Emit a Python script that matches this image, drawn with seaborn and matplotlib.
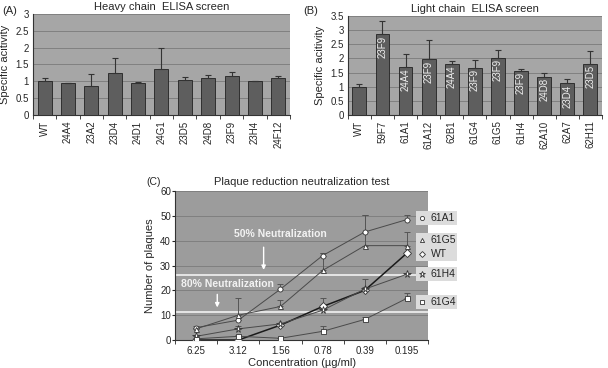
import numpy as np
import pandas as pd
import matplotlib
matplotlib.use("Agg")
import matplotlib.pyplot as plt
import matplotlib.transforms as mtransforms
from matplotlib.patches import Rectangle
import seaborn as sns

# panel A data
heavy_clones = ["WT", "24A4", "23A2", "23D4", "24D1", "24G1", "23D5", "24D8", "23F9", "23H4", "24F12"]
heavy_activity = [1.0, 0.95, 0.87, 1.25, 0.95, 1.38, 1.05, 1.1, 1.15, 1.0, 1.1]
heavy_err = [0.1, 0.01, 0.35, 0.45, 0.02, 0.6, 0.08, 0.1, 0.13, 0.0, 0.05]

# panel B data
light_clones = ["WT", "59F7", "61A1", "61A12", "62B1", "61G4", "61G5", "61H4", "62A10", "62A7", "62H11"]
light_activity = [1.0, 2.85, 1.7, 1.97, 1.8, 1.67, 2.03, 1.56, 1.35, 1.12, 1.82]
light_err = [0.1, 0.48, 0.47, 0.68, 0.12, 0.28, 0.28, 0.07, 0.14, 0.15, 0.43]
light_partner = ["", "23F9", "24A4", "23F9", "24A4", "23F9", "23F9", "23F9", "24D8", "23D4", "23D5"]

# panel C data
conc_labels = ["6.25", "3.12", "1.56", "0.78", "0.39", "0.195"]
plaques = {
    "61A1": [5, 8, 20.5, 34, 43.5, 48.5],
    "61G5": [4.5, 10, 13.5, 28, 38, 38],
    "WT": [0, 0, 6, 13.5, 20, 35],
    "61H4": [1.5, 4.5, 6.5, 12, 20.5, 26.5],
    "61G4": [0.5, 1.5, 0.7, 3.5, 8.3, 16.8],
}
plaques_err = {
    "61A1": [0.5, 0, 2, 1, 7, 2],
    "61G5": [0.5, 7, 2.5, 7, 12.5, 5.5],
    "WT": [0, 0, 0.5, 3.5, 4.5, 0],
    "61H4": [0.5, 1, 0.5, 1, 1, 0],
    "61G4": [0.5, 0.5, 0, 2, 1, 2],
}
legend_y = {"61A1": 49, "61G5": 40.4, "WT": 34.6, "61H4": 26.7, "61G4": 15.4}
symbols = {"61A1": "o", "61G5": "^", "WT": "D", "61H4": "*", "61G4": "s"}
half_neut = 26.3
eighty_neut = 11.2

sns.set_style("white")
plt.rcParams["font.family"] = ["Liberation Sans", "DejaVu Sans"]
plt.rcParams["font.size"] = 7

BG = "#a6a6a6"
BAR = "#5e5e5e"
GRID = "#808080"

fig = plt.figure(figsize=(6.08, 3.68), dpi=100)


def bar_panel(ax, clones, vals, errs, title, ymax):
    df = pd.DataFrame({"clone": clones, "activity": vals})
    sns.barplot(data=df, x="clone", y="activity", color=BAR, width=0.6,
                edgecolor="#222222", linewidth=0.6, saturation=1, ax=ax, zorder=3)
    x = np.arange(len(clones))
    ax.errorbar(x, vals, yerr=[np.zeros(len(errs)), errs], fmt="none",
                ecolor="#333333", elinewidth=0.8, capsize=2, capthick=0.8, zorder=4)
    ax.set_facecolor(BG)
    ax.set_ylim(0, ymax)
    ax.set_yticks(np.arange(0, ymax + 0.01, 0.5))
    ax.set_yticklabels([f"{v:g}" for v in np.arange(0, ymax + 0.01, 0.5)])
    ax.yaxis.grid(True, color=GRID, lw=0.7, zorder=0)
    ax.set_axisbelow(True)
    ax.set_xlabel("")
    ax.set_ylabel("Specific acitivity", fontsize=8)
    ax.set_title(title, fontsize=8, pad=3)
    ax.tick_params(axis="x", rotation=90, length=0, pad=4)
    ax.tick_params(axis="y", length=2, pad=1)
    ax.set_xticks(np.arange(-0.5, len(clones)), minor=True)
    ax.tick_params(axis="x", which="minor", length=3, direction="out", bottom=True)
    for s in ["top", "right"]:
        ax.spines[s].set_visible(False)
    for s in ["left", "bottom"]:
        ax.spines[s].set_color("#333333")
        ax.spines[s].set_linewidth(0.8)
    ax.set_xlim(-0.5, len(clones) - 0.5)


axA = fig.add_axes([0.054, 0.6875, 0.423, 0.2745])
bar_panel(axA, heavy_clones, heavy_activity, heavy_err, "Heavy chain  ELISA screen", 3)
fig.text(0.003, 0.985, "(A)", fontsize=8, va="top")

axB = fig.add_axes([0.572, 0.6875, 0.418, 0.269])
bar_panel(axB, light_clones, light_activity, light_err, "Light chain  ELISA screen", 3.5)
fig.text(0.498, 0.985, "(B)", fontsize=8, va="top")
for i, lab in enumerate(light_partner):
    if lab:
        axB.text(i, light_activity[i] - 0.05, lab, rotation=90, ha="center", va="top",
                 color="#f0f0f0", fontsize=7, zorder=5)

# panel C
axC = fig.add_axes([0.288, 0.076, 0.416, 0.405])
axC.set_facecolor("#9c9c9c")
xpos = np.arange(len(conc_labels))
for name, vals in plaques.items():
    is_wt = name == "WT"
    sns.lineplot(x=xpos, y=vals, ax=axC, color="#1a1a1a" if is_wt else "#4a4a4a",
                 lw=1.1 if is_wt else 0.7, marker=symbols[name],
                 markersize=5.5 if name == "61H4" else 3.6,
                 markerfacecolor="white", markeredgecolor="#333333",
                 markeredgewidth=0.6, zorder=4)
    axC.errorbar(xpos, vals, yerr=[np.zeros(6), plaques_err[name]], fmt="none",
                 ecolor="#555555", elinewidth=0.7, capsize=2, capthick=0.7, zorder=3)

axC.axhline(half_neut, color="#e6e6e6", lw=1.4, zorder=2)
axC.axhline(eighty_neut, color="#e6e6e6", lw=1.4, zorder=2)
axC.annotate("", xy=(1.6, half_neut + 0.8), xytext=(1.6, 38.5),
             arrowprops=dict(arrowstyle="-|>", color="white", lw=1, mutation_scale=6))
axC.text(2.0, 42.5, "50% Neutralization", color="#f2f2f2", fontweight="bold",
         ha="center", va="center", fontsize=7.5)
axC.annotate("", xy=(0.5, eighty_neut + 0.8), xytext=(0.5, 19.5),
             arrowprops=dict(arrowstyle="-|>", color="white", lw=1, mutation_scale=6))
axC.text(0.74, 22.5, "80% Neutralization", color="#f2f2f2", fontweight="bold",
         ha="center", va="center", fontsize=7.5)

axC.set_xlim(-0.5, 5.5)
axC.set_ylim(0, 60)
axC.set_xticks(xpos)
axC.set_xticklabels(conc_labels)
axC.set_xticks(np.arange(-0.5, 6), minor=True)
axC.tick_params(axis="x", which="major", length=0, pad=4)
axC.tick_params(axis="x", which="minor", length=3, bottom=True)
axC.tick_params(axis="y", length=2, pad=1, left=True)
axC.set_yticks(np.arange(0, 61, 10))
axC.yaxis.grid(True, color=GRID, lw=0.7, zorder=0)
axC.set_axisbelow(True)
for s in ["top", "right"]:
    axC.spines[s].set_visible(False)
for s in ["left", "bottom"]:
    axC.spines[s].set_color("#333333")
    axC.spines[s].set_linewidth(0.8)
axC.set_xlabel("Concentration (\u00b5g/ml)", fontsize=8, labelpad=2)
axC.set_ylabel("Number of plaques", fontsize=8)
axC.set_title("Plaque reduction neutralization test", fontsize=8, pad=4)
fig.text(0.24, 0.505, "(C)", fontsize=7.5, va="center")

# legend boxes next to the line ends
blend = mtransforms.blended_transform_factory(axC.transAxes, axC.transData)
for name, yv in legend_y.items():
    axC.add_patch(Rectangle((0.953, yv - 2.8), 0.162, 5.6, transform=blend,
                            facecolor="#dcdcdc", edgecolor="none", clip_on=False, zorder=6))
    axC.plot([0.978], [yv], transform=blend, marker=symbols[name],
             markersize=4.5 if name == "61H4" else 3, markerfacecolor="white",
             markeredgecolor="#333333", markeredgewidth=0.6, clip_on=False, zorder=7)
    axC.text(1.01, yv, name, transform=blend, va="center",
             ha="left", fontsize=7.5, zorder=7, clip_on=False)

fig.savefig("out.png", dpi=100)
